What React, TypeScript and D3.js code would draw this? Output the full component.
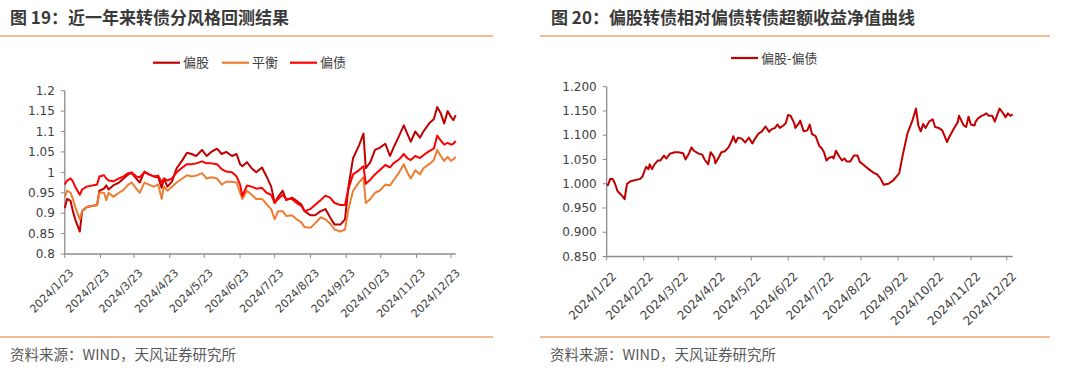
import React from 'react';
import * as d3 from 'd3';

// ---------- Left chart data (图19) ----------
const leftDates = [
  '2024-01-23','2024-01-25','2024-01-28','2024-01-30','2024-02-01','2024-02-03','2024-02-05','2024-02-07','2024-02-11','2024-02-20',
  '2024-02-22','2024-02-26','2024-02-28','2024-03-01','2024-03-05','2024-03-10','2024-03-14','2024-03-18','2024-03-21','2024-03-25',
  '2024-03-28','2024-04-01','2024-04-05','2024-04-09','2024-04-13','2024-04-16','2024-04-18','2024-04-21','2024-04-25','2024-04-29',
  '2024-05-04','2024-05-08','2024-05-12','2024-05-16','2024-05-21','2024-05-25','2024-05-29','2024-06-03','2024-06-07','2024-06-11',
  '2024-06-16','2024-06-20','2024-06-23','2024-06-25','2024-06-29','2024-07-03','2024-07-07','2024-07-12','2024-07-16','2024-07-20',
  '2024-07-23','2024-07-26','2024-07-30','2024-08-02','2024-08-07','2024-08-11','2024-08-15','2024-08-18','2024-08-23','2024-08-27',
  '2024-09-01','2024-09-05','2024-09-09','2024-09-13','2024-09-18','2024-09-22','2024-09-25','2024-09-29','2024-10-04','2024-10-08',
  '2024-10-10','2024-10-14','2024-10-18','2024-10-22','2024-10-27','2024-10-31','2024-11-03','2024-11-08','2024-11-12','2024-11-15',
  '2024-11-18','2024-11-22','2024-11-26','2024-11-29','2024-12-04','2024-12-08','2024-12-11','2024-12-14','2024-12-17','2024-12-20',
  '2024-12-23','2024-12-25','2024-12-27',
];
const pianGu = [
  0.912,0.935,0.930,0.905,0.885,0.870,0.855,0.905,0.915,0.920,
  0.955,0.960,0.968,0.958,0.968,0.975,0.985,0.995,0.998,0.985,
  0.975,1.002,0.995,0.990,0.988,0.962,0.985,0.965,0.978,1.010,
  1.030,1.048,1.045,1.040,1.055,1.040,1.050,1.058,1.045,1.050,
  1.040,1.045,1.020,1.015,1.025,1.010,1.000,1.012,0.990,0.965,
  0.925,0.940,0.955,0.932,0.938,0.930,0.922,0.905,0.895,0.895,
  0.905,0.910,0.890,0.872,0.872,0.885,0.965,1.035,1.065,1.095,
  1.010,1.025,1.055,1.060,1.070,1.040,1.060,1.090,1.115,1.095,
  1.075,1.100,1.085,1.100,1.120,1.130,1.160,1.145,1.120,1.150,
  1.135,1.128,1.140,
];
const pingHeng = [
  0.940,0.955,0.950,0.935,0.915,0.900,0.885,0.905,0.915,0.920,
  0.950,0.950,0.932,0.950,0.940,0.950,0.957,0.970,0.975,0.960,
  0.950,0.975,0.970,0.965,0.970,0.935,0.965,0.955,0.965,0.975,
  0.985,0.993,0.990,0.992,0.998,0.985,0.988,0.985,0.970,0.977,
  0.977,0.975,0.950,0.935,0.955,0.945,0.935,0.935,0.922,0.910,
  0.885,0.905,0.905,0.893,0.895,0.885,0.878,0.866,0.864,0.875,
  0.890,0.885,0.875,0.860,0.855,0.860,0.910,0.955,0.975,0.988,
  0.925,0.935,0.950,0.955,0.970,0.968,0.980,1.000,1.020,1.000,
  0.985,1.005,0.995,1.010,1.020,1.030,1.055,1.040,1.028,1.038,
  1.028,1.032,1.038,
];
const pianZhai = [
  0.970,0.980,0.985,0.978,0.965,0.955,0.945,0.958,0.965,0.970,
  0.990,0.993,0.985,0.980,0.978,0.985,0.990,0.998,1.000,0.990,
  0.988,1.000,0.995,0.990,0.992,0.975,0.985,0.980,0.985,1.000,
  1.012,1.020,1.020,1.022,1.027,1.022,1.022,1.020,1.008,1.002,
  1.000,0.990,0.970,0.942,0.968,0.965,0.960,0.962,0.950,0.945,
  0.925,0.935,0.945,0.935,0.935,0.925,0.918,0.905,0.910,0.920,
  0.932,0.943,0.938,0.925,0.920,0.920,0.960,0.995,1.005,1.015,
  0.972,0.982,0.995,1.005,1.018,1.012,1.022,1.032,1.045,1.035,
  1.030,1.040,1.035,1.042,1.052,1.058,1.090,1.078,1.068,1.072,
  1.068,1.070,1.077,
];
const leftSeriesNames = ['偏股', '平衡', '偏债'];
const leftXTicks = ['2024-01-23','2024-02-23','2024-03-23','2024-04-23','2024-05-23','2024-06-23','2024-07-23','2024-08-23','2024-09-23','2024-10-23','2024-11-23','2024-12-23'];
const leftYTicks = [0.8, 0.85, 0.9, 0.95, 1, 1.05, 1.1, 1.15, 1.2];

// ---------- Right chart data (图20) ----------
const rightDates = [
  '2024-01-22','2024-01-23','2024-01-25','2024-01-27','2024-01-29','2024-01-31','2024-02-02','2024-02-04','2024-02-06','2024-02-08',
  '2024-02-11','2024-02-19','2024-02-21','2024-02-24','2024-02-26','2024-02-27','2024-02-29','2024-03-02','2024-03-05','2024-03-07',
  '2024-03-10','2024-03-12','2024-03-15','2024-03-19','2024-03-22','2024-03-26','2024-03-28','2024-03-31','2024-04-02','2024-04-04',
  '2024-04-08','2024-04-11','2024-04-13','2024-04-16','2024-04-18','2024-04-21','2024-04-22','2024-04-25','2024-04-27','2024-04-30',
  '2024-05-03','2024-05-06','2024-05-07','2024-05-09','2024-05-11','2024-05-14','2024-05-17','2024-05-20','2024-05-23','2024-05-25',
  '2024-05-28','2024-05-31','2024-06-03','2024-06-06','2024-06-08','2024-06-11','2024-06-13','2024-06-15','2024-06-18','2024-06-20',
  '2024-06-22','2024-06-24','2024-06-27','2024-06-28','2024-07-01','2024-07-02','2024-07-05','2024-07-08','2024-07-10','2024-07-12',
  '2024-07-15','2024-07-18','2024-07-20','2024-07-22','2024-07-24','2024-07-26','2024-07-29','2024-07-30','2024-08-01','2024-08-04',
  '2024-08-06','2024-08-08','2024-08-10','2024-08-13','2024-08-16','2024-08-19','2024-08-21','2024-08-26','2024-08-30','2024-09-02',
  '2024-09-04','2024-09-07','2024-09-10','2024-09-14','2024-09-18','2024-09-23','2024-09-26','2024-09-30','2024-10-04','2024-10-07',
  '2024-10-09','2024-10-11','2024-10-13','2024-10-15','2024-10-18','2024-10-21','2024-10-23','2024-10-26','2024-10-29','2024-10-31',
  '2024-11-02','2024-11-04','2024-11-08','2024-11-11','2024-11-12','2024-11-14','2024-11-16','2024-11-18','2024-11-20','2024-11-22',
  '2024-11-25','2024-11-26','2024-11-28','2024-12-01','2024-12-03','2024-12-05','2024-12-07','2024-12-10','2024-12-12','2024-12-14',
  '2024-12-16','2024-12-19','2024-12-21','2024-12-23','2024-12-25','2024-12-27',
];
const excessValues = [
  0.998,0.997,1.010,1.010,1.000,0.985,0.980,0.975,0.968,1.000,
  1.005,1.010,1.015,1.035,1.030,1.040,1.030,1.040,1.048,1.048,
  1.058,1.052,1.062,1.065,1.065,1.063,1.050,1.063,1.075,1.068,
  1.062,1.060,1.050,1.040,1.065,1.055,1.042,1.055,1.065,1.067,
  1.075,1.090,1.098,1.085,1.095,1.093,1.085,1.095,1.083,1.092,
  1.103,1.108,1.118,1.107,1.112,1.115,1.122,1.115,1.120,1.125,
  1.142,1.140,1.125,1.115,1.125,1.130,1.108,1.110,1.122,1.102,
  1.098,1.078,1.073,1.065,1.048,1.053,1.056,1.052,1.068,1.055,
  1.048,1.052,1.046,1.046,1.058,1.058,1.045,1.035,1.027,1.022,
  1.020,1.012,0.998,1.000,1.007,1.022,1.060,1.105,1.130,1.155,
  1.120,1.108,1.123,1.115,1.128,1.133,1.117,1.115,1.110,1.098,
  1.086,1.097,1.115,1.127,1.140,1.130,1.120,1.117,1.138,1.122,
  1.120,1.128,1.135,1.140,1.142,1.145,1.140,1.140,1.128,1.142,
  1.155,1.145,1.137,1.145,1.140,1.143,
];
const rightSeriesName = '偏股-偏债';
const rightXTicks = ['2024-01-22','2024-02-22','2024-03-22','2024-04-22','2024-05-22','2024-06-22','2024-07-22','2024-08-22','2024-09-22','2024-10-22','2024-11-22','2024-12-22'];
const rightYTicks = [0.85, 0.9, 0.95, 1.0, 1.05, 1.1, 1.15, 1.2];

const leftTitle = '图 19：近一年来转债分风格回测结果';
const rightTitle = '图 20：偏股转债相对偏债转债超额收益净值曲线';
const sourceText = '资料来源：WIND，天风证券研究所';

const parse = d3.timeParse('%Y-%m-%d');
const fmtTick = d3.timeFormat('%Y/%-m/%-d');

const CJK = '"Noto Sans CJK SC", "Noto Sans", sans-serif';
const NUM = '"DejaVu Sans", "Noto Sans CJK SC", sans-serif';
const ORANGE_RULE = '#EFA46C';
const AXIS = '#8c8c8c';
const TXT = '#404040';

const COLORS = ['#C00000', '#ED7D31', '#FF0000'];

function Axes({ x, y, xTicks, yTicks, yFmt, xFont, yFont, lab }: any) {
  const [x0, x1] = x.range();
  const [y0] = y.range();
  const yTop = y.range()[1];
  return (
    <g>
      <line x1={x0} x2={x0} y1={y0} y2={yTop} stroke={AXIS} strokeWidth={1.3} />
      {yTicks.map((t: number) => (
        <g key={'y' + t}>
          <line x1={x0 - 4} x2={x0} y1={y(t)} y2={y(t)} stroke={AXIS} strokeWidth={1} />
          <text x={x0 - 10} y={y(t)} dy="0.35em" textAnchor="end" fontFamily={NUM} fontSize={yFont} fill={TXT}>
            {yFmt(t)}
          </text>
        </g>
      ))}
      <line x1={x0} x2={x1} y1={y0} y2={y0} stroke={AXIS} strokeWidth={1.5} />
      {xTicks.map((s: string) => {
        const d = parse(s)!;
        const px = x(d);
        return (
          <g key={'x' + s}>
            <line x1={px} x2={px} y1={y0} y2={y0 + 4} stroke={AXIS} strokeWidth={1} />
            <text
              transform={`translate(${px + lab[0]},${y0 + lab[1]}) rotate(-45)`}
              textAnchor="end"
              fontFamily={NUM}
              fontSize={xFont}
              fill={TXT}
            >
              {fmtTick(d)}
            </text>
          </g>
        );
      })}
    </g>
  );
}

export default function App() {
  // Left chart scales
  const lDates = leftDates.map((s) => parse(s)!);
  const lx = d3.scaleTime().domain([lDates[0], lDates[lDates.length - 1]]).range([64.8, 455.7]);
  const ly = d3.scaleLinear().domain([0.8, 1.2]).range([254, 90.7]);
  const leftSeries = [pianGu, pingHeng, pianZhai];
  const leftLine = d3
    .line<number>()
    .x((_, i) => lx(lDates[i]))
    .y((v) => ly(v));

  // Right chart scales
  const rDates = rightDates.map((s) => parse(s)!);
  const rx = d3.scaleTime().domain([rDates[0], rDates[rDates.length - 1]]).range([606.7, 1012.7]);
  const ry = d3.scaleLinear().domain([0.85, 1.2]).range([256.5, 86.7]);
  const rightLine = d3
    .line<number>()
    .x((_, i) => rx(rDates[i]))
    .y((v) => ry(v));

  const legendLeft = [
    { x: 153, name: leftSeriesNames[0], color: COLORS[0] },
    { x: 222, name: leftSeriesNames[1], color: COLORS[1] },
    { x: 290, name: leftSeriesNames[2], color: COLORS[2] },
  ];

  return (
    <svg
      width={1080}
      height={380}
      style={{ position: 'fixed', left: 0, top: 0, background: '#fff' }}
    >
      <rect x={0} y={0} width={1080} height={380} fill="#fff" />
      {/* Titles */}
      <text x={10} y={18} dy="0.35em" fontFamily={CJK} fontWeight={700} fontSize={17} fill="#3a3a3a">
        {leftTitle}
      </text>
      <text x={551} y={18} dy="0.35em" fontFamily={CJK} fontWeight={700} fontSize={17} fill="#3a3a3a">
        {rightTitle}
      </text>
      <line x1={0} x2={493} y1={36} y2={36} stroke={ORANGE_RULE} strokeWidth={1.3} />
      <line x1={540} x2={1050} y1={36} y2={36} stroke={ORANGE_RULE} strokeWidth={1.3} />
      <line x1={0} x2={493} y1={337} y2={337} stroke={ORANGE_RULE} strokeWidth={1.3} />
      <line x1={540} x2={1050} y1={337} y2={337} stroke={ORANGE_RULE} strokeWidth={1.3} />
      <text x={10} y={355} dy="0.35em" fontFamily={CJK} fontSize={14.5} fill="#595959">
        {sourceText}
      </text>
      <text x={550} y={355} dy="0.35em" fontFamily={CJK} fontSize={14.5} fill="#595959">
        {sourceText}
      </text>

      {/* Left legend */}
      {legendLeft.map((l) => (
        <g key={l.name}>
          <line x1={l.x} x2={l.x + 27} y1={62.7} y2={62.7} stroke={l.color} strokeWidth={2.2} />
          <text x={l.x + 30} y={62.7} dy="0.35em" fontFamily={CJK} fontSize={13} fill={TXT}>
            {l.name}
          </text>
        </g>
      ))}

      {/* Left axes and lines */}
      <Axes x={lx} y={ly} xTicks={leftXTicks} yTicks={leftYTicks} yFmt={(t: number) => String(+t.toFixed(2))} xFont={11} yFont={12} lab={[9.5, 19.5]} />
      {leftSeries.map((s, i) => (
        <path key={i} d={leftLine(s) || ''} fill="none" stroke={COLORS[i]} strokeWidth={2} strokeLinejoin="round" />
      ))}

      {/* Right legend */}
      <line x1={731} x2={758} y1={58} y2={58} stroke={COLORS[0]} strokeWidth={2.2} />
      <text x={761} y={58} dy="0.35em" fontFamily={CJK} fontSize={13} fill={TXT}>
        {rightSeriesName}
      </text>

      {/* Right axes and line */}
      <Axes x={rx} y={ry} xTicks={rightXTicks} yTicks={rightYTicks} yFmt={(t: number) => t.toFixed(3)} xFont={12} yFont={12} lab={[10.5, 20.5]} />
      <path d={rightLine(excessValues) || ''} fill="none" stroke={COLORS[0]} strokeWidth={2} strokeLinejoin="round" />
    </svg>
  );
}
